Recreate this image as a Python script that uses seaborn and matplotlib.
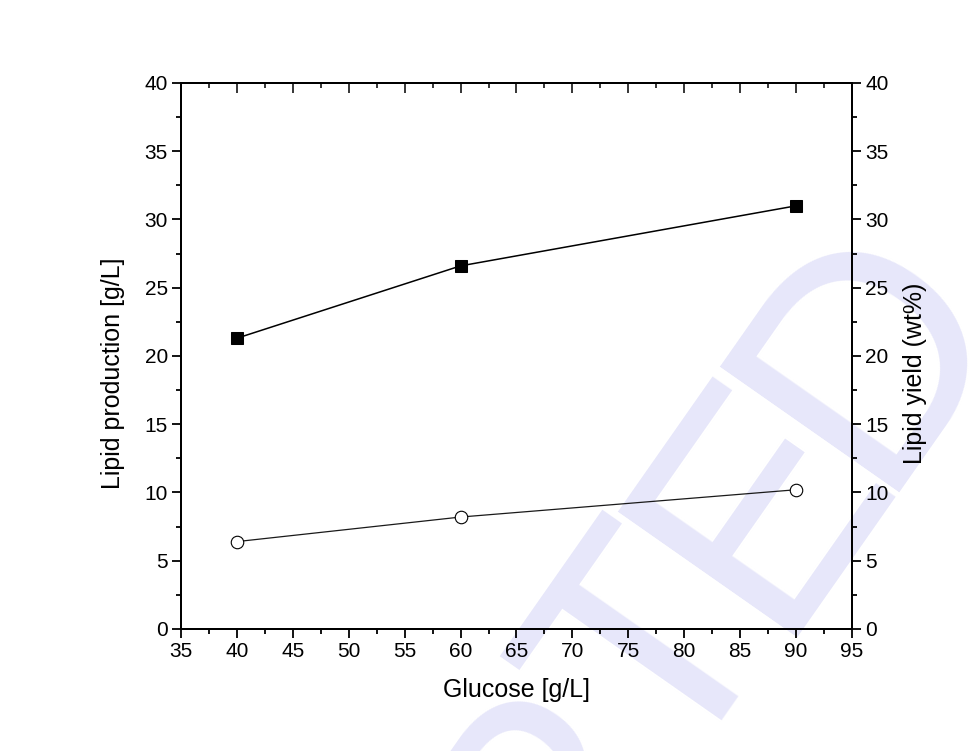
import math

import seaborn as sns
import matplotlib
matplotlib.use("Agg")
import matplotlib.pyplot as plt
from matplotlib.ticker import MultipleLocator, NullFormatter

# Values
glucose = [40, 60, 90]
lipid_production = [21.3, 26.6, 31.0]   # g/L, left axis (filled squares)
lipid_yield = [6.4, 8.2, 10.2]          # wt%, right axis (open circles)

x_label = "Glucose [g/L]"
left_label = "Lipid production [g/L]"
right_label = "Lipid yield (wt%)"
watermark = "ACCEPTED"

FIG_W, FIG_H = 974, 751


def style_ticks(axis_obj, direction, which_axis):
    axis_obj.tick_params(axis=which_axis, which="major", direction=direction,
                         length=6.5, width=1.3, labelsize=15, pad=3,
                         colors="black")
    axis_obj.tick_params(axis=which_axis, which="minor", direction=direction,
                         length=3.5, width=1.3, colors="black")


def draw_watermark(fig):
    # stamp is set in condensed letters, so place each letter on the
    # rotated baseline ourselves (anchor = baseline centre of the 2nd "E")
    angle = 55
    ux, uy = math.cos(math.radians(angle)), math.sin(math.radians(angle))
    ax0, ay0 = 833, FIG_H - 550
    step = 185
    anchor_idx = len(watermark) - 2
    for i, ch in enumerate(watermark):
        k = i - anchor_idx
        x = ax0 + k * step * ux
        y = ay0 + k * step * uy
        fig.text(x / FIG_W, y / FIG_H, ch, rotation=angle,
                 rotation_mode="anchor", ha="center", va="baseline",
                 fontsize=228, color="#e7e7fa", zorder=-1)


def main():
    sns.set_style("ticks")
    plt.rcParams["font.family"] = ["Liberation Sans", "DejaVu Sans"]
    plt.rcParams["text.color"] = "black"
    plt.rcParams["axes.labelcolor"] = "black"

    fig = plt.figure(figsize=(FIG_W / 100, FIG_H / 100), dpi=100)
    fig.patch.set_facecolor("white")
    draw_watermark(fig)

    ax = fig.add_axes([0.1858, 0.1625, 0.6889, 0.7270])
    ax.set_facecolor("none")
    ax2 = ax.twinx()
    ax2.set_facecolor("none")

    sns.lineplot(x=glucose, y=lipid_production, ax=ax, color="black",
                 linewidth=1.1, marker="s", markersize=8.5,
                 markerfacecolor="black", markeredgecolor="black")
    sns.lineplot(x=glucose, y=lipid_yield, ax=ax2, color="#1a1a1a",
                 linewidth=0.9, marker="o", markersize=9,
                 markerfacecolor="white", markeredgecolor="black",
                 markeredgewidth=0.8)

    ax.set_xlim(35, 95)
    ax.set_ylim(0, 40)
    ax2.set_ylim(0, 40)

    for a in (ax, ax2):
        a.xaxis.set_major_locator(MultipleLocator(5))
        a.xaxis.set_minor_locator(MultipleLocator(2.5))
        a.yaxis.set_major_locator(MultipleLocator(5))
        a.yaxis.set_minor_locator(MultipleLocator(2.5))
        for sp in a.spines.values():
            sp.set_linewidth(1.4)
            sp.set_color("black")

    style_ticks(ax, "out", "x")
    style_ticks(ax, "out", "y")
    style_ticks(ax2, "out", "y")

    # inward ticks along the top edge, no labels
    top = ax.secondary_xaxis("top")
    top.xaxis.set_major_locator(MultipleLocator(5))
    top.xaxis.set_minor_locator(MultipleLocator(2.5))
    top.xaxis.set_major_formatter(NullFormatter())
    top.tick_params(which="major", direction="in", length=7, width=1.3)
    top.tick_params(which="minor", direction="in", length=3.5, width=1.3)
    top.spines["top"].set_linewidth(1.4)

    ax.set_xlabel(x_label, fontsize=18)
    ax.set_ylabel(left_label, fontsize=18)
    ax2.set_ylabel(right_label, fontsize=18)
    ax.xaxis.set_label_coords(0.5, -0.09)
    ax.yaxis.set_label_coords(-0.0835, 0.469)
    ax2.yaxis.set_label_coords(1.076, 0.469)

    fig.savefig("out.png", dpi=100)


if __name__ == "__main__":
    main()
